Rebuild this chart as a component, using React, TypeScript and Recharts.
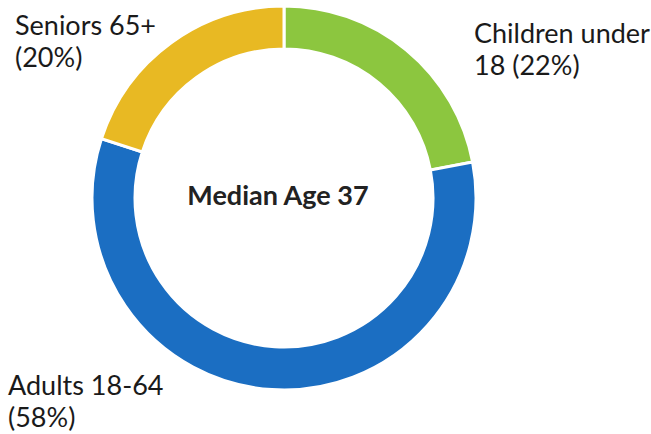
import React from "react";
import { PieChart, Pie, Cell } from "recharts";

const groups = ["Children under 18", "Adults 18-64", "Seniors 65+"];
const shares = [22, 58, 20];
const colors = ["#8CC63F", "#1B6EC2", "#E8B923"];
const centerText = "Median Age 37";

const data = groups.map((name, i) => ({ name, value: shares[i] }));

const labelStyle: React.CSSProperties = {
  position: "absolute",
  fontFamily: "Lato, sans-serif",
  fontSize: 27,
  lineHeight: "32px",
  color: "#1a1a1a",
  whiteSpace: "nowrap",
};

export default function App() {
  return (
    <div style={{ position: "absolute", left: 0, top: 0, width: 651, height: 434, background: "#fff" }}>
      <PieChart width={651} height={434} margin={{ top: 0, right: 0, bottom: 0, left: 0 }}>
        <Pie
          data={data}
          dataKey="value"
          cx={284}
          cy={198}
          innerRadius={149}
          outerRadius={192}
          startAngle={90}
          endAngle={-270}
          stroke="#fff"
          strokeWidth={3}
          isAnimationActive={false}
        >
          {data.map((d, i) => (
            <Cell key={d.name} fill={colors[i]} />
          ))}
        </Pie>
      </PieChart>
      <div
        style={{
          ...labelStyle,
          left: 128,
          width: 300,
          top: 179,
          textAlign: "center",
          fontSize: 27,
          fontWeight: 700,
          color: "#222",
        }}
      >
        {centerText}
      </div>
      <div style={{ ...labelStyle, left: 15, top: 9 }}>
        Seniors 65+
        <br />
        (20%)
      </div>
      <div style={{ ...labelStyle, left: 474, top: 17 }}>
        Children under
        <br />
        18 (22%)
      </div>
      <div style={{ ...labelStyle, left: 8, top: 369 }}>
        Adults 18-64
        <br />
        (58%)
      </div>
    </div>
  );
}
